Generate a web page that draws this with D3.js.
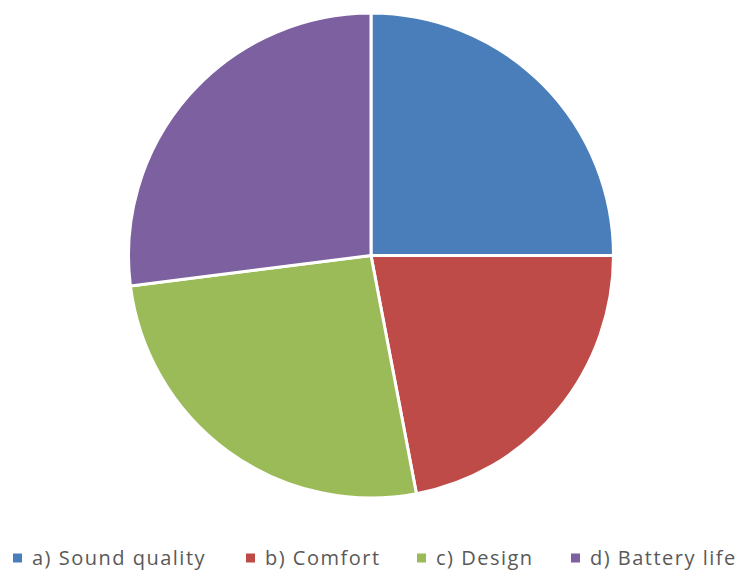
<!DOCTYPE html>
<html>
<head>
<meta charset="utf-8">
<script src="https://cdn.jsdelivr.net/npm/d3@7"></script>
<style>
  html, body { margin: 0; padding: 0; background: #fff; }
  svg { display: block; }
</style>
</head>
<body>
<svg id="chart" width="745" height="574"></svg>
<script>
// Survey shares per feature
const categories = ["a) Sound quality", "b) Comfort", "c) Design", "d) Battery life"];
const values = [25, 22, 26, 27];
const colors = ["#4A7EBB", "#BE4B48", "#9BBB59", "#7D60A0"];
// Legend item x offsets (marker left edge)
const legendX = [13, 246, 417, 571];

const svg = d3.select("#chart");
const cx = 371, cy = 255.5, r = 242.5;

const pie = d3.pie().sort(null).value(d => d)(values);
const arc = d3.arc().innerRadius(0).outerRadius(r);

svg.append("g")
  .attr("transform", `translate(${cx},${cy})`)
  .selectAll("path")
  .data(pie)
  .join("path")
  .attr("d", arc)
  .attr("fill", (d, i) => colors[i])
  .attr("stroke", "#fff")
  .attr("stroke-width", 3)
  .attr("stroke-linejoin", "round");

const legend = svg.append("g");
const items = legend.selectAll("g")
  .data(categories)
  .join("g")
  .attr("transform", (d, i) => `translate(${legendX[i]},0)`);

items.append("rect")
  .attr("x", 0).attr("y", 553.5)
  .attr("width", 9).attr("height", 9)
  .attr("fill", (d, i) => colors[i]);

items.append("text")
  .attr("x", 19).attr("y", 564.5)
  .attr("font-family", "'Open Sans', sans-serif")
  .attr("font-size", 20)
  .attr("letter-spacing", 1.5)
  .attr("fill", "#595959")
  .text(d => d);
</script>
</body>
</html>
